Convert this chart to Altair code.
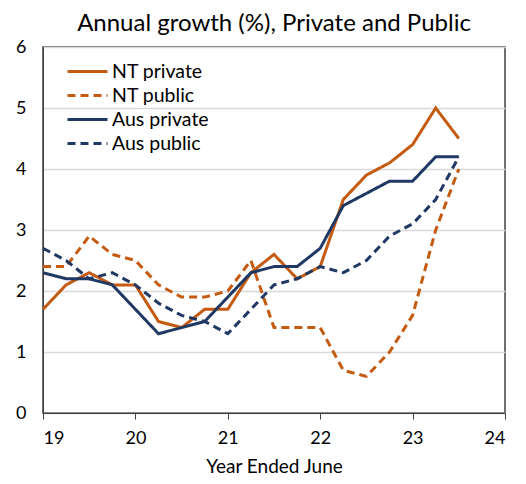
import altair as alt
import pandas as pd

quarters = [19 + 0.25 * i for i in range(19)]
nt_private = [1.7, 2.1, 2.3, 2.1, 2.1, 1.5, 1.4, 1.7, 1.7, 2.3, 2.6, 2.2, 2.4, 3.5, 3.9, 4.1, 4.4, 5.0, 4.5]
nt_public = [2.4, 2.4, 2.9, 2.6, 2.5, 2.1, 1.9, 1.9, 2.0, 2.5, 1.4, 1.4, 1.4, 0.7, 0.6, 1.0, 1.6, 3.0, 4.0]
aus_private = [2.3, 2.2, 2.2, 2.1, 1.7, 1.3, 1.4, 1.5, 1.9, 2.3, 2.4, 2.4, 2.7, 3.4, 3.6, 3.8, 3.8, 4.2, 4.2]
aus_public = [2.7, 2.5, 2.2, 2.3, 2.1, 1.8, 1.6, 1.5, 1.3, 1.7, 2.1, 2.2, 2.4, 2.3, 2.5, 2.9, 3.1, 3.5, 4.2]

series_names = ["NT private", "NT public", "Aus private", "Aus public"]
series_values = [nt_private, nt_public, aus_private, aus_public]
colors = ["#C55A11", "#C55A11", "#203864", "#203864"]
dashes = [[1, 0], [8, 5], [1, 0], [8, 5]]

rows = []
for name, vals in zip(series_names, series_values):
    for q, v in zip(quarters, vals):
        rows.append({"x": q, "y": v, "series": name})
df = pd.DataFrame(rows)

FONT = "Lato"

legend_kw = dict(title=None, orient="none", legendX=33, legendY=13,
                 symbolType="M-2,0H2", symbolSize=400, symbolStrokeWidth=3,
                 labelFontSize=19.5, labelFont=FONT, labelColor="#000000",
                 rowPadding=3, labelOffset=13)

chart = alt.Chart(df).mark_line(strokeWidth=3).encode(
    x=alt.X("x:Q", scale=alt.Scale(domain=[19, 24], nice=False),
            axis=alt.Axis(values=[19, 20, 21, 22, 23, 24], format="d", title="Year Ended June",
                          grid=False, tickSize=6, tickColor="#404040", domainColor="#404040",
                          labelFontSize=18, titleFontSize=19, titleFontWeight="normal",
                          labelColor="#000000", titleColor="#000000", labelPadding=10, titlePadding=10,
                          labelFont=FONT, titleFont=FONT)),
    y=alt.Y("y:Q", scale=alt.Scale(domain=[0, 6], nice=False),
            axis=alt.Axis(values=[0, 1, 2, 3, 4, 5, 6], title=None, grid=True, gridColor="#D9D9D9",
                          gridWidth=1.5, ticks=False, domainColor="#404040", labelFontSize=18,
                          labelColor="#000000", labelPadding=17, labelFont=FONT)),
    color=alt.Color("series:N", scale=alt.Scale(domain=series_names, range=colors),
                    legend=alt.Legend(**legend_kw)),
    strokeDash=alt.StrokeDash("series:N", scale=alt.Scale(domain=series_names, range=dashes),
                              legend=alt.Legend(**legend_kw)),
).properties(
    width=462,
    height=366,
    title=alt.TitleParams("Annual growth (%), Private and Public", fontSize=24, font=FONT,
                          fontWeight="normal", color="#000000", anchor="middle", offset=2),
    autosize=alt.AutoSizeParams(type="none"),
    padding={"left": 35, "top": 39, "right": 13, "bottom": 63},
).configure_view(stroke="#404040", strokeWidth=1.5)

chart.save("out.html", embed_options={"renderer": "svg", "actions": False})
